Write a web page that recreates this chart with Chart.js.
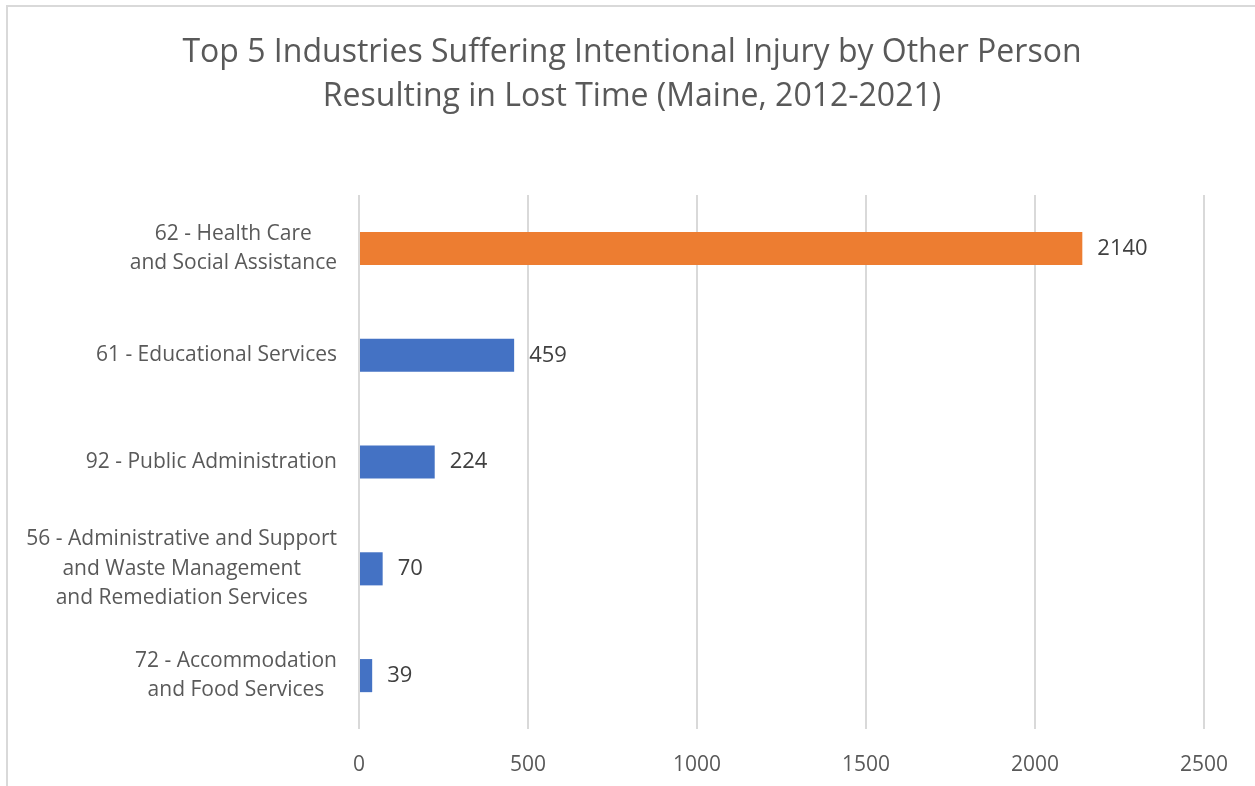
<!DOCTYPE html>
<html>
<head>
<meta charset="utf-8">
<script src="https://cdn.jsdelivr.net/npm/chart.js@4.4.1/dist/chart.umd.min.js"></script>
<style>
  html, body { margin: 0; padding: 0; background: #fff; }
  #wrap { position: relative; width: 1255px; height: 786px; overflow: hidden; }
  #frame { position: absolute; left: 6px; top: 5px; width: 1400px; height: 900px;
           border-left: 2px solid #d9d9d9; border-top: 2px solid #d9d9d9; }
  canvas { position: absolute; left: 0; top: 0; }
</style>
</head>
<body>
<div id="wrap">
  <div id="frame"></div>
  <canvas id="chart" width="1255" height="786"></canvas>
</div>
<script>
const industries = [
  ['62 - Health Care', 'and Social Assistance'],
  ['61 - Educational Services'],
  ['92 - Public Administration'],
  ['56 - Administrative and Support', 'and Waste Management', 'and Remediation Services'],
  ['72 - Accommodation', 'and Food Services']
];
const injuries = [2140, 459, 224, 70, 39];
const barColors = ['#ED7D31', '#4472C4', '#4472C4', '#4472C4', '#4472C4'];
const xTicks = [0, 500, 1000, 1500, 2000, 2500];

const FONT = "'Open Sans', 'Noto Sans', sans-serif";

// value printed just past the end of each bar
const valueLabels = {
  id: 'valueLabels',
  afterDatasetsDraw(chart) {
    const ctx = chart.ctx;
    const meta = chart.getDatasetMeta(0);
    ctx.save();
    ctx.font = '22px ' + FONT;
    ctx.fillStyle = '#404040';
    ctx.textAlign = 'left';
    ctx.textBaseline = 'middle';
    meta.data.forEach((bar, i) => {
      ctx.fillText(String(injuries[i]), bar.x + 15, bar.y);
    });
    ctx.restore();
  }
};

// category labels: block right-aligned, lines centred within the block (Excel style)
const categoryLabels = {
  id: 'categoryLabels',
  afterDraw(chart) {
    const ctx = chart.ctx;
    const y = chart.scales.y;
    const rightEdge = y.right - 22;
    const lineH = 29.5;
    ctx.save();
    ctx.font = '21px ' + FONT;
    ctx.fillStyle = '#595959';
    ctx.textAlign = 'center';
    ctx.textBaseline = 'middle';
    industries.forEach((lines, i) => {
      const cy = y.getPixelForTick(i);
      const w = Math.max(...lines.map(l => ctx.measureText(l).width));
      const cx = rightEdge - w / 2;
      const top = cy - (lines.length - 1) * lineH / 2;
      lines.forEach((l, j) => ctx.fillText(l, cx, top + j * lineH));
    });
    ctx.restore();
  }
};

new Chart(document.getElementById('chart'), {
  type: 'bar',
  data: {
    labels: industries,
    datasets: [{
      data: injuries,
      backgroundColor: barColors,
      borderWidth: 0,
      categoryPercentage: 1,
      barPercentage: 0.31
    }]
  },
  options: {
    indexAxis: 'y',
    responsive: false,
    animation: false,
    // left/right padding also centres the title where Excel put it
    layout: { padding: { top: 0, right: 51, bottom: 0, left: 60 } },
    scales: {
      x: {
        min: 0,
        max: 2500,
        afterBuildTicks(scale) { scale.ticks = xTicks.map(v => ({ value: v })); },
        afterFit(scale) { scale.height = 57; },
        grid: { color: '#d9d9d9', lineWidth: 2, drawTicks: false },
        border: { display: false },
        ticks: {
          padding: 23,
          color: '#595959',
          font: { family: FONT, size: 21 },
          callback: v => String(v)
        }
      },
      y: {
        grid: { display: false },
        border: { display: false },
        ticks: { display: false },
        afterFit(scale) { scale.width = 299; }
      }
    },
    plugins: {
      legend: { display: false },
      tooltip: { enabled: false },
      title: {
        display: true,
        text: ['Top 5 Industries Suffering Intentional Injury by Other Person',
               'Resulting in Lost Time (Maine, 2012-2021)'],
        color: '#595959',
        font: { family: FONT, size: 32, weight: 'normal', lineHeight: 1.4 },
        padding: { top: 30, bottom: 75.5 }
      }
    }
  },
  plugins: [valueLabels, categoryLabels]
});
</script>
</body>
</html>
